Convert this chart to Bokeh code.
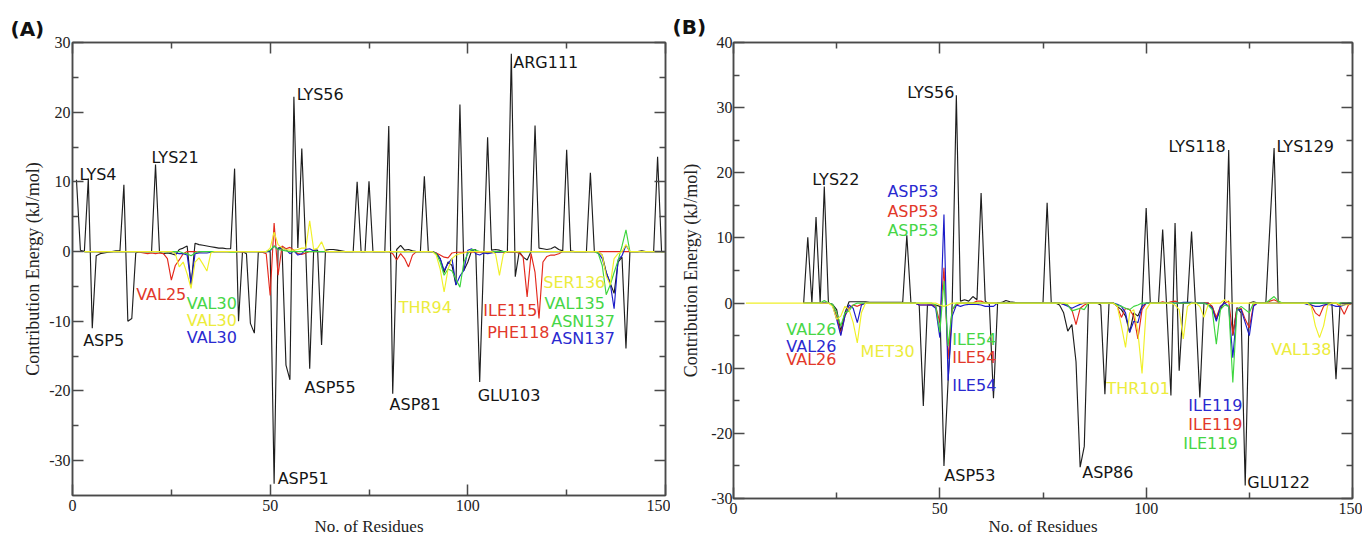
from bokeh.plotting import figure
from bokeh.models import (ColumnDataSource, FixedTicker, LinearAxis, Range1d, Title,
                          CustomJSTickFormatter)
from bokeh.layouts import row
from bokeh.core.properties import value
from bokeh.embed import file_html
from bokeh.resources import INLINE

residues = list(range(1, 151))
N = None

# ---------------- Panel (A) ----------------
a_total = [
    10.3, 0.2, 0.0, 10.5, -11.0, -0.6, -0.3, -0.2, -0.1, 0.0,
    0.1, 0.1, 9.6, -10.0, -9.6, -0.2, 0.0, 0.0, 0.0, 0.0,
    12.5, -0.1, -0.3, -0.2, -0.3, -0.5, 0.3, 0.5, 0.8, -4.8,
    1.2, 1.0, 0.9, 0.8, 0.7, 0.6, 0.5, 0.5, 0.4, 0.4,
    11.9, -10.0, 0.0, -0.3, -10.3, -11.7, -0.1, 0.0, 0.0, 0.0,
    -33.3, 0.5, 0.6, -16.3, -18.4, 22.2, 0.5, 14.8, 0.3, -16.8,
    0.2, 0.2, -13.4, 0.2, 0.3, 0.3, 0.2, 0.1, 0.0, 0.0,
    0.0, 10.0, 0.0, 0.0, 10.1, 0.0, 0.0, 0.0, 0.0, 18.0,
    -20.4, 0.3, 0.9, 0.2, 0.3, 0.1, 0.0, 0.0, 10.8, 0.0,
    0.0, -0.2, -1.0, -3.0, -1.5, -2.0, -4.8, 21.1, -2.7, -1.5,
    0.2, 0.3, -18.7, -1.0, 16.4, 0.2, 0.3, 0.2, 0.0, 0.0,
    28.4, -3.6, 0.0, -0.8, -1.2, 0.0, 18.1, 0.5, 0.4, 0.3,
    0.4, 0.7, 0.3, 0.1, 14.6, 0.1, 0.0, 0.0, 0.0, 0.0,
    11.3, 0.0, 0.0, -0.5, -3.0, -4.5, -6.0, -1.5, -0.8, -13.9,
    0.0, 0.0, 0.0, 0.1, 0.0, 0.0, 0.0, 13.6, 0.0, 0.0,
]
a_red = [
    N, N, 0.0, 0.0, 0.0, 0.0, -0.1, 0.0, 0.0, 0.0,
    0.0, 0.0, 0.0, 0.0, 0.0, 0.0, -0.1, -0.2, -0.3, -0.2,
    -0.3, -0.2, -0.3, -1.0, -4.1, -2.0, -1.2, -0.3, 0.0, 0.0,
    0.0, -0.1, 0.0, 0.0, 0.0, 0.0, 0.0, 0.0, 0.0, 0.0,
    0.0, 0.0, -0.1, 0.0, 0.0, 0.0, 0.0, -0.1, -0.3, -6.3,
    4.1, -3.4, 0.8, 0.4, 0.6, 0.2, -0.3, -0.4, -0.2, 0.0,
    0.0, 0.0, 0.0, 0.0, 0.0, 0.0, 0.0, 0.0, 0.0, 0.0,
    0.0, 0.0, 0.0, 0.0, 0.0, 0.0, 0.0, 0.0, 0.0, 0.0,
    -0.3, -1.2, -0.3, -1.0, -2.2, -0.5, 0.0, 0.0, 0.0, 0.0,
    0.0, -0.2, -0.5, -0.8, -0.9, -0.2, -0.1, -0.1, -0.1, -0.1,
    -0.1, -0.1, -0.1, -0.1, -0.1, -0.1, -0.1, -0.1, -0.1, -0.1,
    -0.1, -0.1, -0.2, -0.8, -6.5, -0.3, -3.0, -9.6, -1.5, -0.7,
    -0.5, -0.5, -0.3, 0.0, 0.0, 0.0, 0.0, 0.0, 0.0, 0.0,
    0.0, 0.0, 0.0, 0.0, 0.0, 0.0, 0.0, 0.0, 0.0, 0.0,
    0.0, 0.0, 0.0, 0.0, 0.0, 0.0, 0.0, 0.0, 0.0, 0.0,
]
a_green = [
    N, N, 0.0, 0.0, 0.0, 0.0, 0.0, 0.0, 0.0, 0.0,
    0.0, 0.0, 0.0, 0.0, 0.0, 0.0, 0.0, 0.0, 0.0, 0.0,
    0.0, 0.0, 0.0, 0.0, 0.0, 0.0, 0.0, -0.2, -0.3, -0.6,
    -0.2, 0.0, 0.0, 0.0, 0.0, 0.0, 0.0, 0.0, 0.0, -0.1,
    -0.1, 0.0, 0.0, 0.0, 0.0, 0.0, 0.0, 0.0, 0.0, 0.2,
    0.8, 0.3, 0.2, 0.1, 0.0, 0.0, 0.0, 0.0, 0.0, 0.0,
    0.0, 0.0, 0.0, 0.0, 0.0, 0.0, 0.0, 0.0, 0.0, 0.0,
    0.0, 0.0, 0.0, 0.0, 0.0, 0.0, 0.0, 0.0, 0.0, 0.0,
    0.0, 0.0, 0.0, 0.0, 0.0, 0.0, 0.0, 0.0, 0.0, 0.0,
    0.0, -0.3, -1.5, -3.4, -2.5, -2.8, -4.0, -5.1, -1.5, -0.3,
    0.3, 0.2, 0.0, 0.0, 0.0, 0.0, 0.0, 0.0, 0.0, 0.0,
    0.0, 0.0, 0.0, 0.0, 0.0, 0.0, 0.0, 0.0, 0.0, 0.0,
    0.0, 0.0, 0.0, 0.0, 0.0, 0.0, 0.0, 0.0, 0.0, 0.0,
    0.0, 0.0, -0.3, -2.0, -6.2, -4.8, -3.0, -1.3, 0.8, 3.1,
    0.0, 0.0, 0.0, 0.0, 0.0, 0.0, 0.0, 0.0, 0.0, 0.0,
]
a_blue = [
    N, N, 0.0, 0.0, 0.0, 0.0, 0.0, 0.0, 0.0, 0.0,
    0.0, 0.0, 0.0, 0.0, 0.0, 0.0, 0.0, 0.0, 0.0, 0.0,
    0.0, 0.0, 0.0, 0.0, -0.1, -0.2, -0.3, -0.3, -0.5, -4.6,
    -0.3, -0.2, -0.2, -0.2, -0.1, 0.0, 0.0, 0.0, 0.0, 0.0,
    0.0, 0.0, 0.0, 0.0, 0.0, 0.0, 0.0, 0.0, 0.0, 0.1,
    0.8, 0.3, 0.5, 0.3, -0.3, 0.1, -0.5, -0.3, 0.3, 0.4,
    0.1, 0.0, 0.0, 0.0, 0.0, 0.0, 0.0, 0.0, 0.0, 0.0,
    0.0, 0.0, 0.0, 0.0, 0.0, 0.0, 0.0, 0.0, 0.0, 0.0,
    0.0, 0.0, 0.0, 0.0, 0.0, 0.0, 0.0, 0.0, 0.0, 0.0,
    0.0, -0.3, -1.0, -2.7, -1.7, -1.0, -4.8, -3.5, -2.7, 0.2,
    0.4, -0.3, -0.5, -0.2, -0.3, -0.2, -0.1, -0.1, 0.0, 0.0,
    0.0, 0.0, 0.0, 0.0, 0.0, 0.0, 0.0, 0.0, 0.0, 0.0,
    0.0, 0.0, 0.0, 0.0, 0.0, 0.0, 0.0, 0.0, 0.0, 0.0,
    0.0, 0.0, -0.2, -1.0, -3.0, -4.5, -8.2, -1.2, -0.6, 0.9,
    0.0, 0.0, 0.0, 0.0, 0.0, 0.0, 0.0, 0.0, 0.0, 0.0,
]
a_yellow = [
    N, N, 0.0, 0.0, 0.0, 0.0, 0.0, 0.0, 0.0, 0.0,
    0.0, 0.0, 0.0, 0.0, 0.0, 0.0, 0.0, 0.0, 0.0, 0.0,
    0.0, 0.0, 0.0, 0.0, 0.0, -0.3, -2.2, -1.5, -3.2, -5.3,
    -1.5, -0.9, -1.8, -2.8, -0.2, 0.0, 0.0, 0.0, 0.0, 0.0,
    0.0, 0.0, 0.0, 0.0, 0.0, 0.0, 0.0, 0.0, 0.0, 0.5,
    2.8, 1.0, 0.5, 0.3, 0.2, 0.2, 0.3, 0.5, 0.5, 4.4,
    0.3, 0.5, 1.4, 0.0, 0.0, 0.0, 0.0, 0.0, 0.0, 0.0,
    0.0, 0.0, 0.0, 0.0, 0.0, 0.0, 0.0, 0.0, 0.0, 0.0,
    0.0, 0.0, 0.0, 0.0, 0.0, 0.0, 0.0, 0.0, 0.0, 0.0,
    0.0, -0.5, -2.5, -5.8, -2.5, -1.0, -0.5, -0.3, -0.2, 0.0,
    0.0, 0.0, 0.0, 0.0, 0.0, 0.0, -0.3, -3.4, -0.3, 0.0,
    0.0, 0.0, 0.0, 0.0, 0.0, 0.0, 0.0, 0.0, 0.0, 0.0,
    0.0, 0.0, 0.0, 0.0, 0.0, 0.0, 0.0, 0.0, 0.0, 0.0,
    0.0, 0.0, 0.0, -0.5, -3.5, -4.8, -1.0, -0.3, 0.0, 1.0,
    0.0, 0.0, 0.0, 0.0, 0.0, 0.0, 0.0, 0.0, 0.0, 0.0,
]

a_label_text = ["LYS4", "LYS21", "LYS56", "ARG111", "ASP5", "VAL25", "VAL30", "VAL30", "VAL30",
                "ASP51", "ASP55", "THR94", "ASP81", "GLU103", "ILE115", "PHE118",
                "SER136", "VAL135", "ASN137", "ASN137"]
a_label_x = [1.8, 20.0, 56.7, 111.5, 2.7, 16.1, 28.9, 28.9, 28.9,
             51.9, 58.7, 82.5, 80.2, 102.5, 103.9, 104.9,
             119.1, 119.4, 121.1, 121.1]
a_label_y = [11.0, 13.5, 22.6, 27.2, -12.7, -6.1, -7.5, -9.9, -12.4,
             -32.6, -19.5, -8.0, -22.0, -20.6, -8.4, -11.6,
             -4.4, -7.5, -10.0, -12.5]
a_label_series = ["total", "total", "total", "total", "total", "red", "green", "yellow", "blue",
                  "total", "total", "yellow", "total", "total", "red", "red",
                  "yellow", "green", "green", "blue"]

# ---------------- Panel (B) ----------------
b_total = [
    N, N, N, N, N, N, N, N, N, N,
    N, N, N, N, N, N, 0.0, 10.1, 0.0, 13.2,
    0.0, 17.9, 0.0, -0.2, -1.0, -4.3, -1.5, 0.2, 0.2, 0.2,
    0.2, 0.2, 0.1, 0.1, 0.1, 0.1, 0.1, 0.1, 0.1, 0.1,
    0.1, 10.4, 0.0, 0.0, -0.3, -15.8, -0.3, -0.3, -0.3, -0.5,
    -25.0, -12.0, 0.0, 31.9, 0.3, 0.5, 0.3, 1.0, 0.5, 16.9,
    0.3, -0.2, -14.6, 0.0, 0.1, 0.4, 0.2, 0.1, 0.0, 0.0,
    0.0, 0.0, 0.0, 0.0, 0.0, 15.4, 0.0, 0.0, -0.3, -1.5,
    -4.3, -3.3, -9.0, -25.2, -22.0, 0.0, 0.0, 0.0, -0.3, -14.0,
    0.0, 0.0, -0.5, -1.0, -2.0, -4.5, -1.5, -2.0, -0.5, 14.6,
    0.0, 0.0, 0.0, 11.3, -1.0, -14.2, 12.3, -10.4, 0.0, 0.0,
    11.0, -1.0, -14.5, 0.0, 0.0, -0.5, -2.5, -1.0, 0.3, 23.5,
    -5.0, -0.7, -1.5, -28.0, 0.0, 0.2, 0.0, 0.0, 0.0, 12.0,
    23.8, 0.0, 0.0, 0.0, 0.0, 0.0, 0.0, 0.0, 0.0, 0.0,
    0.0, 0.0, 0.0, 0.0, 0.0, -11.7, 0.0, 0.0, 0.0, 0.0,
]
b_red = [
    N, N, N, N, N, N, N, N, N, N,
    N, N, N, N, N, N, 0.0, 0.0, 0.0, 0.0,
    0.0, 0.0, 0.0, -0.3, -2.0, -4.8, -2.0, -0.8, -0.3, -0.5,
    -0.2, 0.0, 0.0, 0.0, 0.0, 0.0, 0.0, 0.0, 0.0, 0.0,
    0.0, 0.0, 0.0, 0.0, -0.3, -0.3, -0.3, -0.3, -0.5, -3.0,
    5.4, -8.6, -1.0, -0.3, 0.0, 0.0, 0.0, 0.0, 0.3, 0.3,
    0.0, 0.0, 0.0, 0.0, 0.0, 0.0, 0.0, 0.0, 0.0, 0.0,
    0.0, 0.0, 0.0, 0.0, 0.0, 0.0, 0.0, 0.0, 0.0, -0.2,
    -0.3, -1.0, -3.3, -0.8, -0.3, 0.0, 0.0, 0.0, 0.0, 0.0,
    0.0, 0.0, -0.5, -2.2, -0.8, -1.0, -2.0, -5.5, -1.0, 0.0,
    0.0, 0.0, 0.0, 0.2, 0.0, 0.2, 0.3, 0.0, 0.0, 0.0,
    0.0, 0.0, 0.0, 0.0, 0.0, -0.5, -2.2, -0.5, 0.0, 0.3,
    -4.8, -0.8, -0.8, -2.5, -3.8, -0.3, 0.0, 0.0, 0.0, 0.3,
    0.5, 0.2, 0.0, 0.0, 0.0, 0.0, 0.0, 0.0, 0.0, -0.3,
    -1.5, -2.0, -0.5, 0.0, 0.0, 0.0, -0.5, -1.7, -0.3, 0.0,
]
b_blue = [
    N, N, N, N, N, N, N, N, N, N,
    N, N, N, N, N, N, 0.0, 0.0, 0.0, 0.0,
    0.0, 0.1, 0.0, -0.3, -2.5, -5.0, -2.0, -0.3, -0.8, -3.0,
    -0.3, 0.0, 0.0, 0.0, 0.0, 0.0, 0.0, 0.0, 0.0, 0.0,
    0.0, 0.0, 0.0, 0.0, -0.3, -0.3, -0.3, -0.3, -0.8, -5.3,
    13.6, -11.9, -2.0, -0.3, -0.5, -0.3, -0.2, -0.2, -0.2, -0.3,
    -0.5, -0.5, -0.5, 0.0, 0.0, 0.0, 0.0, 0.0, 0.0, 0.0,
    0.0, 0.0, 0.0, 0.0, 0.0, 0.0, 0.0, 0.0, 0.0, -0.2,
    -0.5, -0.8, -0.5, -0.2, 0.0, 0.0, 0.0, 0.0, 0.0, 0.0,
    0.0, 0.0, -0.2, -0.5, -1.5, -4.5, -2.8, -3.0, -0.5, 0.0,
    0.0, 0.0, 0.0, 0.0, 0.0, 0.0, 0.0, 0.0, 0.1, 0.1,
    0.1, 0.0, 0.0, 0.0, -0.2, -0.8, -2.8, -0.5, 0.0, -0.5,
    -8.4, -1.0, -1.0, -3.0, -5.0, -0.5, 0.0, 0.0, 0.0, 0.0,
    0.0, 0.0, 0.0, 0.0, 0.0, 0.0, 0.0, 0.0, -0.2, -0.3,
    -0.5, -0.5, -0.3, -0.2, -0.3, -0.5, -0.5, -0.3, 0.0, 0.0,
]
b_green = [
    N, N, N, N, N, N, N, N, N, N,
    N, N, N, N, N, N, 0.0, 0.0, 0.0, 0.0,
    0.0, 0.4, 0.0, -0.2, -1.5, -3.5, -1.5, -1.2, -0.3, 0.0,
    0.0, 0.0, 0.0, 0.0, 0.0, 0.0, 0.0, 0.0, 0.0, 0.0,
    0.0, 0.0, 0.0, 0.0, 0.0, 0.0, 0.0, 0.0, -0.3, -4.5,
    3.4, -6.6, -1.0, 0.0, 0.0, 0.0, 0.0, 0.0, 0.0, 0.0,
    0.0, 0.0, 0.0, 0.0, 0.0, 0.0, 0.0, 0.0, 0.0, 0.0,
    0.0, 0.0, 0.0, 0.0, 0.0, 0.0, 0.0, 0.0, 0.0, 0.0,
    -0.3, -1.2, -1.0, -0.8, -1.0, 0.0, 0.0, 0.0, 0.0, 0.0,
    0.0, 0.0, -0.3, -0.5, -0.8, -1.0, -0.5, -0.3, 0.0, 0.0,
    0.0, 0.0, 0.0, 0.0, 0.0, 0.0, 0.0, 0.0, 0.0, 0.0,
    0.0, 0.0, 0.0, 0.0, -0.3, -1.0, -6.3, -1.0, -0.3, -0.5,
    -12.2, -1.0, -0.5, -1.0, -1.5, 0.0, 0.0, 0.0, 0.0, 0.5,
    1.0, 0.3, 0.0, 0.0, 0.0, 0.0, 0.0, 0.0, 0.0, 0.0,
    0.0, 0.0, 0.0, 0.0, 0.0, 0.0, 0.0, 0.0, 0.0, 0.0,
]
b_yellow = [
    N, N, 0.0, 0.0, 0.0, 0.0, 0.0, 0.0, 0.0, 0.0,
    0.0, 0.0, 0.0, 0.0, 0.0, 0.0, 0.0, 0.0, 0.0, 0.0,
    0.0, 0.0, 0.0, -0.5, -2.5, -2.0, -0.5, -1.0, -3.0, -6.1,
    -1.5, 0.0, 0.0, 0.0, 0.0, 0.0, 0.0, 0.0, 0.0, 0.0,
    0.0, 0.0, 0.0, 0.0, 0.0, 0.0, 0.0, 0.0, 0.0, -0.3,
    -0.5, -0.3, 0.0, 0.0, 0.0, 0.0, 0.0, 0.0, 0.0, 0.0,
    0.0, 0.0, 0.0, 0.0, 0.0, 0.0, 0.0, 0.0, 0.0, 0.0,
    0.0, 0.0, 0.0, 0.0, 0.0, 0.0, 0.0, 0.0, 0.0, 0.0,
    0.0, 0.0, 0.0, 0.0, 0.0, 0.0, 0.0, 0.0, 0.0, 0.0,
    0.0, 0.0, -0.5, -3.5, -6.8, -1.5, -1.0, -4.5, -10.8, -1.0,
    0.0, 0.0, 0.0, 0.0, 0.0, 0.0, -0.3, -1.0, -5.5, -0.5,
    0.0, 0.0, -0.5, -2.2, -0.3, 0.0, 0.0, 0.0, 0.5, 0.0,
    0.0, 0.0, 0.0, 0.0, 0.0, 0.0, 0.0, 0.0, 0.0, 0.0,
    0.0, 0.0, 0.0, 0.0, 0.0, 0.0, 0.0, 0.0, 0.0, -0.5,
    -3.5, -5.3, -3.5, -0.3, 0.0, 0.0, -0.3, -0.3, -0.2, 0.0,
]

b_label_text = ["LYS22", "ASP53", "ASP53", "ASP53", "LYS56", "LYS118", "LYS129",
                "VAL26", "VAL26", "VAL26", "MET30", "ILE54", "ILE54", "ILE54", "ASP53",
                "THR101", "ASP86", "ILE119", "ILE119", "ILE119", "GLU122", "VAL138"]
b_label_x = [19.1, 37.3, 37.3, 37.3, 42.1, 105.4, 131.6,
             12.8, 12.8, 12.8, 30.8, 53.0, 53.0, 53.0, 51.1,
             90.4, 84.5, 110.2, 110.2, 109.0, 124.5, 130.3]
b_label_y = [19.0, 17.1, 14.1, 11.2, 32.4, 24.0, 24.0,
             -4.0, -6.6, -8.7, -7.4, -5.6, -8.4, -12.7, -26.4,
             -13.1, -26.0, -15.8, -18.6, -21.6, -27.5, -7.2]
b_label_series = ["total", "blue", "red", "green", "total", "total", "total",
                  "green", "blue", "red", "yellow", "green", "red", "blue", "total",
                  "yellow", "total", "blue", "red", "green", "total", "yellow"]

x_major = [0, 50, 100, 150]
x_minor = [25, 75, 125]

LINE_COLORS = {"total": "#1e1e1e", "red": "#e3281c", "blue": "#1c1cc8",
               "green": "#3ed63e", "yellow": "#f0f028"}
TEXT_COLORS = {"total": "#151515", "red": "#e2382a", "blue": "#2a2ad0",
               "green": "#46d646", "yellow": "#ecec3c"}
FRAME = "#4a4a4a"
SERIF = "Liberation Serif"
BLANK = CustomJSTickFormatter(code="return ''")


def clean(vals):
    return [float("nan") if v is None else v for v in vals]


def style_axis(ax, show_labels):
    ax.axis_line_color = FRAME
    ax.axis_line_width = 1.5
    ax.major_tick_line_color = FRAME
    ax.minor_tick_line_color = FRAME
    ax.major_tick_line_width = 1.5
    ax.minor_tick_line_width = 1.5
    ax.major_tick_in = 11
    ax.major_tick_out = 0
    ax.minor_tick_in = 6
    ax.minor_tick_out = 0
    if show_labels:
        ax.major_label_text_font = SERIF
        ax.major_label_text_font_size = "16px"
        ax.major_label_text_color = "#222222"
    else:
        ax.formatter = BLANK
        ax.major_label_text_font_size = "1px"
        ax.major_label_standoff = 0


def make_panel(frame_w, frame_h, borders, yr, y_major, y_minor, series, labels,
               tag, tag_offset, tag_standoff, ylab_standoff, ytick_standoff, xlab_standoff):
    left, right, top, bottom = borders
    p = figure(frame_width=frame_w, frame_height=frame_h,
               output_backend="svg", toolbar_location=None,
               x_range=Range1d(0, 150), y_range=Range1d(*yr),
               min_border_left=left, min_border_right=right,
               min_border_top=top, min_border_bottom=bottom,
               background_fill_color="white", border_fill_color="white")
    p.grid.visible = False
    p.outline_line_color = FRAME
    p.outline_line_width = 1.5

    p.xaxis.ticker = FixedTicker(ticks=x_major, minor_ticks=x_minor)
    p.yaxis.ticker = FixedTicker(ticks=y_major, minor_ticks=y_minor)
    for ax in p.xaxis:
        style_axis(ax, True)
        ax.major_label_standoff = 4
        ax.axis_label = "No. of Residues"
        ax.axis_label_text_font = SERIF
        ax.axis_label_text_font_size = "17px"
        ax.axis_label_text_font_style = "normal"
        ax.axis_label_text_color = "#222222"
        ax.axis_label_standoff = xlab_standoff
    for ax in p.yaxis:
        style_axis(ax, True)
        ax.major_label_standoff = ytick_standoff
        ax.major_label_overrides = {t: str(t) for t in y_major}
        ax.axis_label = "Contribution Energy (kJ/mol)"
        ax.axis_label_text_font = SERIF
        ax.axis_label_text_font_size = "18px"
        ax.axis_label_text_font_style = "normal"
        ax.axis_label_text_color = "#222222"
        ax.axis_label_standoff = ylab_standoff
    top_ax = LinearAxis(ticker=FixedTicker(ticks=x_major, minor_ticks=x_minor))
    right_ax = LinearAxis(ticker=FixedTicker(ticks=y_major, minor_ticks=y_minor))
    style_axis(top_ax, False)
    style_axis(right_ax, False)
    p.add_layout(top_ax, "above")
    p.add_layout(right_ax, "right")

    p.add_layout(Title(text=tag, align="left", offset=tag_offset, standoff=tag_standoff,
                       text_font="DejaVu Sans", text_font_style="bold",
                       text_font_size="20px", text_color="#111111"), "above")

    for key, vals in series:
        src = ColumnDataSource(dict(x=residues, y=clean(vals)))
        p.line("x", "y", source=src, line_color=LINE_COLORS[key], line_width=1.15)

    txt, lx, ly, ls = labels
    lsrc = ColumnDataSource(dict(x=lx, y=ly, text=txt, color=[TEXT_COLORS[s] for s in ls]))
    p.text("x", "y", text="text", source=lsrc, text_color="color",
           text_font=value("DejaVu Sans"), text_font_size="16px",
           text_align="left", text_baseline="middle")
    return p


pA = make_panel(593, 453, (72, 5, 42, 43), (-35, 30),
                [-30, -20, -10, 0, 10, 20, 30], [-25, -15, -5, 5, 15, 25],
                [("total", a_total), ("red", a_red), ("blue", a_blue),
                 ("green", a_green), ("yellow", a_yellow)],
                (a_label_text, a_label_x, a_label_y, a_label_series),
                "(A)", -62, 4, 3, 2, 3)

pB = make_panel(619, 456, (63, 10, 42, 40), (-30, 40),
                [-30, -20, -10, 0, 10, 20, 30, 40], [-25, -15, -5, 5, 15, 25, 35],
                [("total", b_total), ("red", b_red), ("blue", b_blue),
                 ("green", b_green), ("yellow", b_yellow)],
                (b_label_text, b_label_x, b_label_y, b_label_series),
                "(B)", -61, 8, 7, 1, 0)

layout = row(pA, pB)
open("out.html", "w").write(file_html(layout, INLINE))
